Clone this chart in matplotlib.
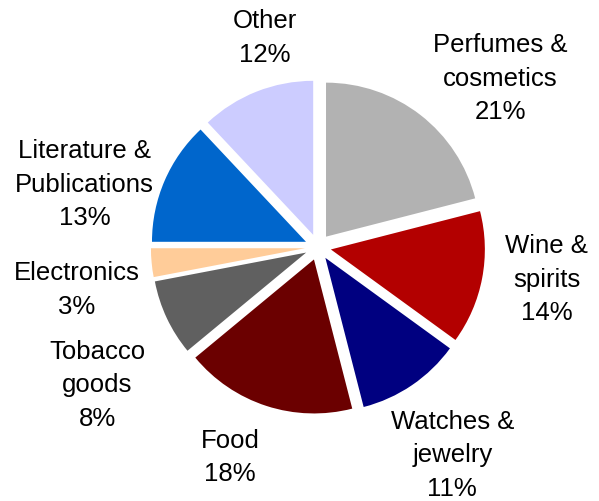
import numpy as np
import matplotlib.pyplot as plt

plt.rcParams['font.family'] = ['Liberation Sans', 'DejaVu Sans']

# data, clockwise from 12 o'clock
categories = ["Perfumes &\ncosmetics", "Wine &\nspirits", "Watches &\njewelry", "Food",
              "Tobacco\ngoods", "Electronics", "Literature &\nPublications", "Other"]
shares = [21, 14, 11, 18, 8, 3, 13, 12]
colors = ["#B2B2B2", "#B30000", "#000080", "#6B0000",
          "#606060", "#FFCC99", "#0066CC", "#CCCCFF"]

# label placement: (distance in radii, angle offset from wedge middle in degrees)
label_layout = [(1.61, -9.5), (1.50, 2.6), (1.61, -1.4), (1.48, -4.7),
                (1.69, 6.9), (1.59, 4.7), (1.57, 8.5), (1.40, -7.4)]

W, H = 599, 501
cx, cy, R = 318, 247, 154

fig = plt.figure(figsize=(W / 100, H / 100), dpi=100)
ax = fig.add_axes([0, 0, 1, 1])

wedges, _ = ax.pie(shares, colors=colors, startangle=90, counterclock=False,
                   explode=[0.085] * len(shares), radius=1.0,
                   wedgeprops=dict(linewidth=0))

for w, lab, val, (d, off) in zip(wedges, categories, shares, label_layout):
    mid = np.deg2rad((w.theta1 + w.theta2) / 2 + off)
    ax.text(d * np.cos(mid), d * np.sin(mid), f"{lab}\n{val}%",
            ha='center', va='center', fontsize=18.5, linespacing=1.5,
            color='black')

ax.set_xlim(-cx / R, (W - cx) / R)
ax.set_ylim(-(H - cy) / R, cy / R)
ax.set_aspect('equal')
ax.axis('off')

fig.savefig("out.png", dpi=100, facecolor='white')
